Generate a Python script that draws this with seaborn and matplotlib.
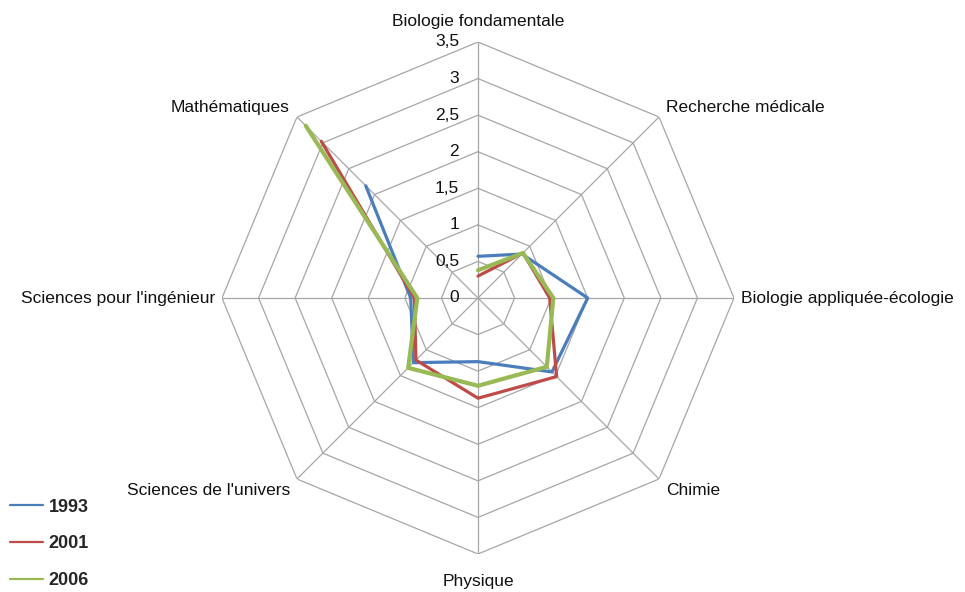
import numpy as np
import pandas as pd
import matplotlib
matplotlib.use("Agg")
import matplotlib.pyplot as plt
import matplotlib.transforms as mtransforms
import seaborn as sns

categories = ["Biologie fondamentale", "Recherche médicale", "Biologie appliquée-écologie",
              "Chimie", "Physique", "Sciences de l'univers", "Sciences pour l'ingénieur",
              "Mathématiques"]
years = ["1993", "2001", "2006"]
v1993 = [0.57, 0.85, 1.5, 1.43, 0.87, 1.25, 0.92, 2.17]
v2001 = [0.3, 0.87, 0.98, 1.52, 1.37, 1.2, 0.87, 3.03]
v2006 = [0.38, 0.87, 1.03, 1.33, 1.2, 1.35, 0.83, 3.33]
levels = [0, 0.5, 1, 1.5, 2, 2.5, 3, 3.5]
level_labels = ["0", "0,5", "1", "1,5", "2", "2,5", "3", "3,5"]

colors = ["#4A7EBB", "#BE4B48", "#98B954"]
widths = [2.3, 2.3, 3.0]

sns.set_style("white")
plt.rcParams["font.family"] = ["Liberation Sans", "DejaVu Sans"]

n = len(categories)
angles = np.arange(n) * 2 * np.pi / n
closed = np.append(angles, angles[0])

rows = []
for yr, vals in zip(years, [v1993, v2001, v2006]):
    for i in range(n + 1):
        rows.append({"theta": closed[i], "value": vals[i % n], "year": yr})
df = pd.DataFrame(rows)

fig = plt.figure(figsize=(9.65, 5.92), dpi=100)
ax = fig.add_axes([222 / 965, 38 / 592, 512 / 965, 512 / 592], projection="polar")
ax.set_theta_offset(np.pi / 2)
ax.set_theta_direction(-1)
ax.set_ylim(0, 3.5)
ax.grid(False)
ax.spines["polar"].set_visible(False)
ax.set_xticks([])
ax.set_yticks([])

# octagon grid
for lv in levels[1:]:
    ax.plot(closed, [lv] * (n + 1), color="#a6a6a6", lw=0.9, zorder=1)
for a in angles:
    ax.plot([a, a], [0, 3.5], color="#a6a6a6", lw=0.9, zorder=1)

for yr, c, w in zip(years, colors, widths):
    sub = df[df["year"] == yr]
    sns.lineplot(data=sub, x="theta", y="value", sort=False, color=c, lw=w,
                 label=yr, ax=ax, zorder=3)
ax.set_xlabel("")
ax.set_ylabel("")

off = mtransforms.offset_copy(ax.transData, fig=fig, x=-19, y=0, units="dots")
for lv, lab in zip(levels, level_labels):
    ax.text(0, lv, lab, transform=off, ha="right", va="center", fontsize=12.5,
            color="#111111")

for a, cat in zip(angles, categories):
    s, c = np.sin(a), np.cos(a)
    if abs(s) < 0.1:
        ha = "center"
        dx = 0
    elif s > 0:
        ha = "left"
        dx = 7
    else:
        ha = "right"
        dx = -7
    if c > 0.9:
        va, dy = "bottom", 13
    elif c < -0.9:
        va, dy = "top", -20
    elif c > 0.3:
        va, dy = "center", 9
    elif c < -0.3:
        va, dy = "center", -11
    else:
        va, dy = "center", 0
    t = mtransforms.offset_copy(ax.transData, fig=fig, x=dx, y=dy, units="dots")
    ax.text(a, 3.5, cat, transform=t, ha=ha, va=va, fontsize=12.5, color="#111111")

ax.legend_.remove()
handles, labels = ax.get_legend_handles_labels()
leg = fig.legend(handles, labels, loc="center left", bbox_to_anchor=(10 / 965, 48 / 592),
                 frameon=False, handlelength=1.85, handletextpad=0.3, labelspacing=1.1,
                 borderpad=0, borderaxespad=0, prop={"weight": "bold", "size": 13})
for h in leg.legend_handles:
    h.set_linewidth(1.6)

fig.savefig("out.png", dpi=100)
